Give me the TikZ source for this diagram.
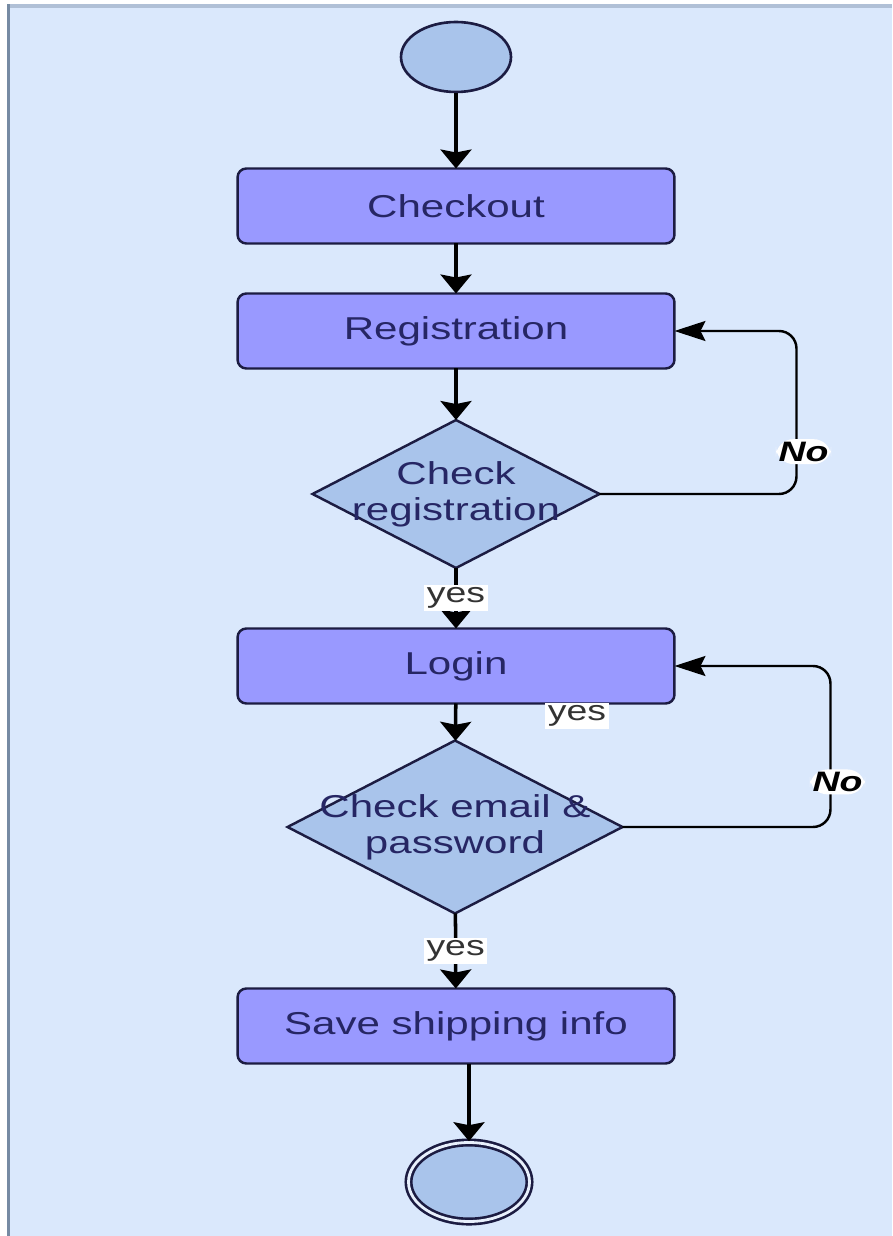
\documentclass[tikz,border=0pt]{standalone}
\usepackage{fontspec}
\setmainfont{Liberation Sans}[FakeStretch=1.33]
\usetikzlibrary{shapes.geometric,arrows.meta,positioning,calc}

\definecolor{bgblue}{RGB}{218,232,252}
\definecolor{topedge}{RGB}{176,192,214}
\definecolor{leftedge}{RGB}{118,138,163}
\definecolor{procfill}{RGB}{153,153,255}
\definecolor{shapefill}{RGB}{169,196,235}
\definecolor{edgecol}{RGB}{28,28,66}
\definecolor{txtcol}{RGB}{38,38,100}
\definecolor{gapcol}{RGB}{232,240,252}

\begin{document}
\begin{tikzpicture}[
    x=0.02cm, y=-0.02cm,
    process/.style = {rectangle, draw=edgecol, line width=1.4pt, fill=procfill, rounded corners=5pt, minimum width=8.74cm, minimum height=1.5cm, inner sep=0pt, outer sep=0pt, text=txtcol, font=\fontsize{18}{21.6}\selectfont},
    decision/.style = {diamond, draw=edgecol, line width=1.4pt, fill=shapefill, inner sep=0pt, outer sep=0pt},
    decisiontext/.style = {text=txtcol, align=center, font=\fontsize{18}{20.5}\selectfont},
    startnode/.style = {ellipse, draw=edgecol, line width=1.5pt, fill=shapefill, minimum width=2.2cm, minimum height=1.4cm, inner sep=0pt},
    endnode/.style = {ellipse, draw=edgecol, line width=1.5pt, double=gapcol, double distance=1.6pt, fill=shapefill, minimum width=2.42cm, minimum height=1.58cm, inner sep=0pt},
    arrow/.style = {-{Stealth[length=0.38cm, width=0.62cm, inset=0.06cm]}, line width=2pt},
    loopback/.style = {-{Stealth[length=0.62cm, width=0.4cm, inset=0.1cm]}, line width=1.4pt, rounded corners=0.35cm},
    answer/.style = {fill=white, inner sep=1.5pt, text=black!80, font=\fontsize{16}{19}\selectfont},
    refusal/.style = {fill=white, inner sep=1.5pt, font=\fontsize{16}{19}\selectfont\bfseries\itshape}
]
    \useasboundingbox (0,0) rectangle (892,1236);
    % frame
    \fill[bgblue] (9,7) rectangle (892,1236);
    \fill[topedge] (7,4) rectangle (892,8);
    \fill[leftedge] (7,4) rectangle (10,1236);

    \node[startnode] (start) at (456,57) {};
    \node[process] (checkout) at (456,206) {Checkout};
    \node[process] (reg) at (456,331) {Registration};
    \node[decision, minimum width=5.74cm, minimum height=2.96cm,
          label={[decisiontext]center:Check\\registration}] (chkreg) at (456,494) {};
    \node[process] (login) at (456,666) {Login};
    \node[decision, minimum width=6.7cm, minimum height=3.46cm,
          label={[decisiontext]center:Check email \&\\password}] (chkmail) at (455,827) {};
    \node[process] (save) at (456,1026) {Save shipping info};
    \node[endnode] (stop) at (469,1182) {};
    \node[answer] (yesB) at (577,716) {yes};

    \draw[arrow] (start) -- (checkout);
    \draw[arrow] (checkout) -- (reg);
    \draw[arrow] (reg) -- (chkreg);
    \draw[arrow] (chkreg) -- node[answer] (yesA) {yes} (login);
    \draw[arrow] (login) -- (chkmail);
    \draw[arrow] (chkmail) -- node[answer] (yesC) {yes} (save);
    \draw[arrow] (save.south -| stop.north) -- (stop.north);

    \draw[loopback] (chkreg.east) -- ++(197,0) |- node[refusal, pos=0.13, xshift=4pt] (noA) {No} (reg.east);
    \draw[loopback] (chkmail.east) -- ++(208,0) |- node[refusal, pos=0.14, xshift=4pt] (noB) {No} (login.east);
\end{tikzpicture}
\end{document}
